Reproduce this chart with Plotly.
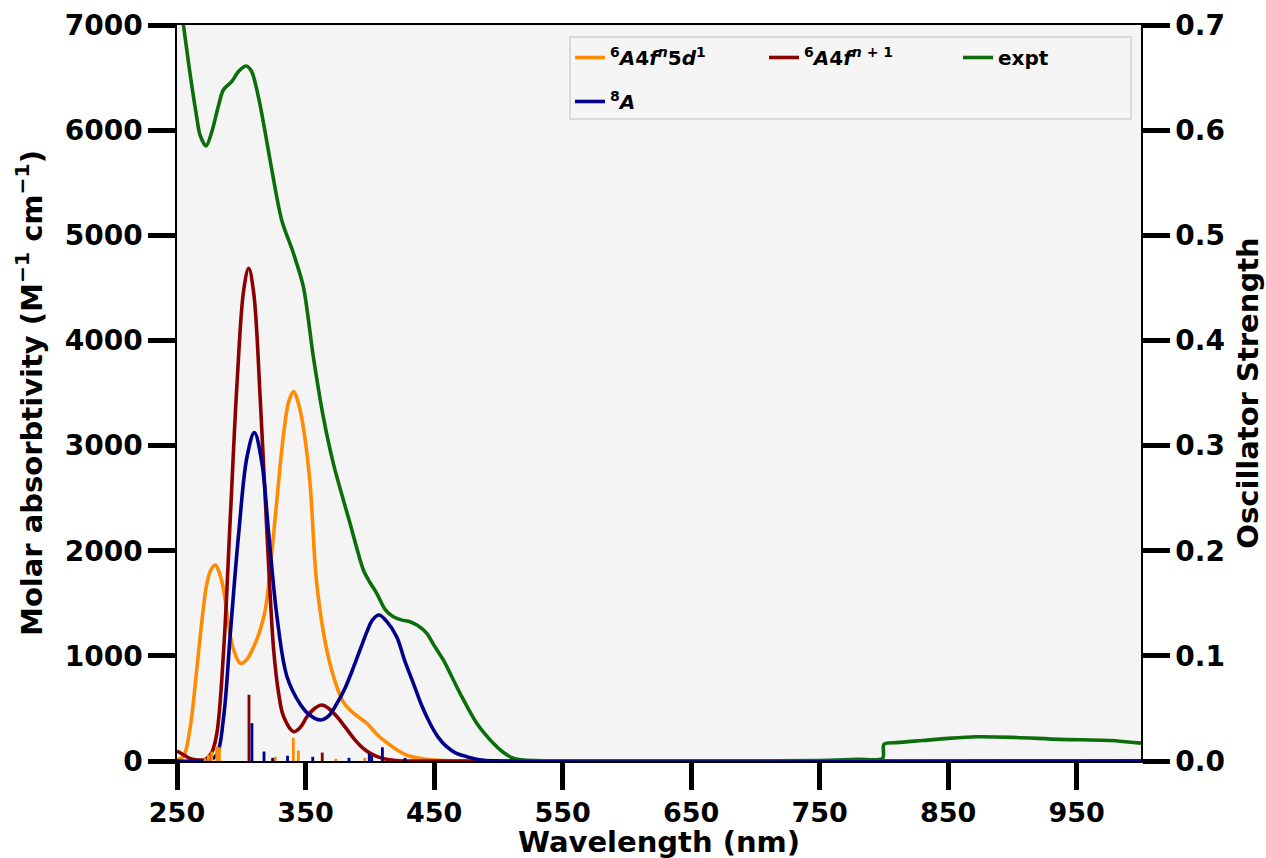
import plotly.graph_objects as go

# ---------------- data ----------------
# broadened spectra (nm, molar absorptivity)
wl_5d = [250, 255, 260, 265.6, 270, 273.3, 276.5, 279.8, 283, 286.3, 290, 294.1, 299.3, 304, 309.7, 314,
         318.7, 325.2, 333, 337, 340.8, 344.5, 348.6, 353.5, 358.7, 366.5, 374.3, 379.4, 384.6, 391,
         397.6, 405, 410.5, 417, 423.5, 430, 439, 450, 470, 1000]
eps_5d = [10, 45, 300, 897, 1400, 1692, 1820, 1864, 1790, 1626, 1300, 1056, 929, 960, 1087, 1220,
          1436, 2166, 3117, 3420, 3513, 3400, 3150, 2641, 1690, 1056, 707, 560, 485, 420,
          359, 260, 200, 140, 88, 50, 26, 8, 0, 0]

wl_4f = [250, 255, 260, 266, 272, 277, 281, 286.3, 291.5, 296.7, 301.9, 305.8, 309.7, 314.8, 320,
         325.2, 329, 333, 340.8, 346, 351.1, 357, 362.8, 368, 374.5, 381, 387.5, 394, 400.4, 410,
         420, 430, 1000]
eps_4f = [95, 60, 25, 10, 15, 80, 263, 1056, 2324, 3592, 4480, 4686, 4448, 3434, 2166,
          1056, 650, 421, 279, 320, 421, 500, 533, 500, 421, 320, 216, 130, 73, 25,
          5, 0, 0]

wl_8a = [250, 270, 276, 281, 286.3, 291.5, 298, 304.5, 310.2, 316.1, 321.3, 327.8, 335.6, 345.9, 353,
         361.5, 368, 374.5, 381, 387.5, 392.4, 397.8, 402, 407.2, 413, 420.9, 427, 433.9, 440,
         446.8, 453, 459.8, 467, 475.4, 485, 500, 1000]
eps_8a = [0, 0, 15, 60, 421, 1214, 2166, 2894, 3123, 2831, 2166, 1372, 802, 540, 440,
          390, 430, 549, 700, 897, 1056, 1230, 1340, 1389, 1330, 1182, 960, 739, 540,
          359, 230, 136, 75, 41, 12, 0, 0]

wl_exp = [250, 255, 260, 265, 268, 272.6, 277, 282, 286, 292.5, 298, 303.7, 308, 313.3, 318,
          322.4, 331.4, 340.5, 348.3, 356, 363.8, 371.6, 384.6, 395, 400, 405.4, 412, 418.3, 425,
          431.3, 437, 444.3, 450, 457.2, 470.2, 483.2, 496.1, 503, 511.7, 520, 550, 700, 750, 780,
          799, 800, 810, 830, 850, 872, 900, 937, 976, 1000]
eps_exp = [7430, 7000, 6550, 6150, 5950, 5849, 5980, 6220, 6382, 6461, 6560, 6610, 6560, 6318, 6020,
           5716, 5146, 4832, 4511, 3850, 3275, 2831, 2261, 1817, 1700, 1595, 1440, 1372, 1340,
           1325, 1290, 1214, 1100, 961, 644, 359, 168, 90, 26, 8, 0, 0, 5, 15,
           26, 160, 175, 195, 215, 230, 225, 206, 195, 170]

# stick spectra (nm, oscillator strength)
st_5d_wl = [271.8, 274.4, 277, 280.9, 283, 326.5, 340.5, 344.4, 373.5, 396]
st_5d_f = [0.003, 0.006, 0.009, 0.014, 0.013, 0.004, 0.022, 0.010, 0.002, 0.003]
st_4f_wl = [306, 363]
st_4f_f = [0.063, 0.008]
st_8a_wl = [308.3, 317.7, 324.4, 336, 355.6, 383.8, 399.6, 401.5, 409.8, 427.4]
st_8a_f = [0.036, 0.009, 0.003, 0.005, 0.004, 0.003, 0.007, 0.005, 0.013, 0.003]

x_ticks = [250, 350, 450, 550, 650, 750, 850, 950]
y_ticks = [0, 1000, 2000, 3000, 4000, 5000, 6000, 7000]
y2_ticks = [0.0, 0.1, 0.2, 0.3, 0.4, 0.5, 0.6, 0.7]

names = {
    "5d": "<sup>6</sup><i>A</i>4<i>f</i><sup><i>n</i></sup>5<i>d</i><sup>1</sup>",
    "4f": "<sup>6</sup><i>A</i>4<i>f</i><sup><i>n</i> + 1</sup>",
    "exp": "expt",
    "8a": "<sup>8</sup><i>A</i>",
}
C_OR = "#ff8c00"
C_RD = "#8b0000"
C_BL = "#00008b"
C_GR = "#0b6e0b"

FONT = "DejaVu Sans"

fig = go.Figure()

# sticks on secondary axis
for wl, f, c in [(st_5d_wl, st_5d_f, C_OR), (st_4f_wl, st_4f_f, C_RD), (st_8a_wl, st_8a_f, C_BL)]:
    fig.add_trace(go.Bar(x=wl, y=f, width=2.2, marker=dict(color=c, line=dict(width=0)),
                         yaxis="y2", showlegend=False, hoverinfo="skip"))

line_kw = dict(mode="lines", line_shape="spline")
LW = 3.6
fig.add_trace(go.Scatter(x=wl_5d, y=eps_5d, name=names["5d"], line=dict(color=C_OR, width=LW, smoothing=1.0),
                         legend="legend", **line_kw))
fig.add_trace(go.Scatter(x=wl_4f, y=eps_4f, name=names["4f"], line=dict(color=C_RD, width=LW, smoothing=1.0),
                         legend="legend", **line_kw))
fig.add_trace(go.Scatter(x=wl_exp, y=eps_exp, name=names["exp"], line=dict(color=C_GR, width=LW, smoothing=0.8),
                         legend="legend", **line_kw))
fig.add_trace(go.Scatter(x=wl_8a, y=eps_8a, name=names["8a"], line=dict(color=C_BL, width=LW, smoothing=1.0),
                         legend="legend2", **line_kw))

W, H = 1266, 858
L, R, T, B = 177, 125, 25, 97
pw, ph = W - L - R, H - T - B


def px2x(px):
    return (px - L) / pw


def px2y(py):
    return (H - B - py) / ph


tick_font = dict(family=FONT, size=28, color="black", weight="bold")
xtick_font = dict(family=FONT, size=27, color="black", weight="bold")
title_font = dict(family=FONT, size=29, color="black", weight="bold")
leg_font = dict(family=FONT, size=20, color="black", weight="bold")

axis_common = dict(showgrid=False, zeroline=False, ticks="outside", ticklen=27, tickwidth=5,
                   tickcolor="black", showline=True, linecolor="black", linewidth=1.5)

fig.update_layout(
    width=W, height=H,
    margin=dict(l=L, r=R, t=T, b=B, autoexpand=False),
    paper_bgcolor="white",
    plot_bgcolor="#f4f4f4",
    barmode="overlay",
    font=dict(family=FONT, color="black"),
    xaxis=dict(range=[250, 1000], tickvals=x_ticks, mirror=True, tickfont=xtick_font, **axis_common),
    yaxis=dict(range=[0, 7000], tickvals=y_ticks, tickfont=tick_font,
               title=dict(text="Molar absorbtivity (M<sup>−1</sup> cm<sup>−1</sup>)", font=title_font, standoff=14),
               **axis_common),
    yaxis2=dict(range=[0, 0.7], tickvals=y2_ticks, tickformat=".1f", overlaying="y", side="right",
                tickfont=tick_font,
                title=dict(text="Oscillator Strength", font=title_font, standoff=14), **axis_common),
    legend=dict(orientation="h", x=px2x(570), y=px2y(38), xanchor="left", yanchor="top",
                bgcolor="rgba(0,0,0,0)", borderwidth=0, font=leg_font,
                entrywidth=149, entrywidthmode="pixels"),
    legend2=dict(orientation="h", x=px2x(570), y=px2y(82), xanchor="left", yanchor="top",
                 bgcolor="rgba(0,0,0,0)", borderwidth=0, font=leg_font),
    shapes=[dict(type="rect", xref="paper", yref="paper",
                 x0=px2x(570), x1=px2x(1131), y0=px2y(119), y1=px2y(37),
                 fillcolor="rgba(244,244,244,0.85)", line=dict(color="#d0d0d0", width=1.5),
                 layer="above")],
    annotations=[dict(text="Wavelength (nm)", xref="paper", yref="paper", x=0.5, y=px2y(842),
                      xanchor="center", yanchor="middle", showarrow=False, font=title_font)],
)

fig.write_html("out.html")
